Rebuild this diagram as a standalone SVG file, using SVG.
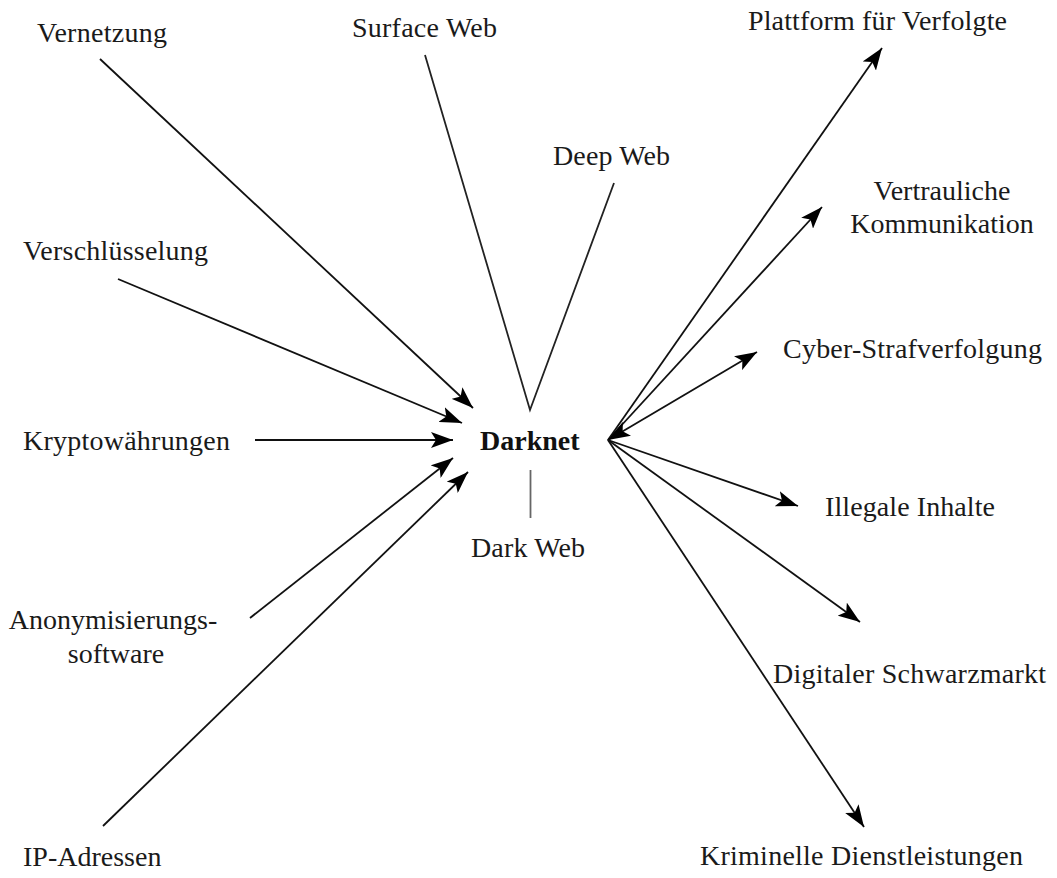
<svg xmlns="http://www.w3.org/2000/svg" width="1057" height="878" viewBox="0 0 1057 878">
  <style>
    .lbl { font-family: "Liberation Serif", "Times New Roman", serif; font-size: 28px; fill: #1a1a1a; }
    .hub { font-family: "Liberation Serif", "Times New Roman", serif; font-size: 28px; font-weight: bold; fill: #111; }
    .edge { stroke: #111; stroke-width: 1.8; fill: none; }
    .arrow { marker-end: url(#head); }
    .both { marker-start: url(#head); marker-end: url(#head); }
    .plain { stroke: #222; }
    .dim { stroke: #666; stroke-width: 1.8; }
  </style>
  <defs>
    <marker id="head" viewBox="0 0 22 16" refX="22" refY="8" markerWidth="22" markerHeight="16" markerUnits="userSpaceOnUse" orient="auto-start-reverse">
      <path d="M0,0 L22,8 L0,16 L5,8 Z" fill="#000"/>
    </marker>
  </defs>
  <rect width="1057" height="878" fill="#fff"/>

  <g id="connectors">
    <!-- inputs into the hub -->
    <line class="edge arrow" x1="100" y1="59" x2="473" y2="408"/>
    <line class="edge arrow" x1="118" y1="279" x2="462" y2="423"/>
    <line class="edge arrow" x1="255" y1="440" x2="453" y2="440"/>
    <line class="edge arrow" x1="250" y1="618" x2="453" y2="458"/>
    <line class="edge arrow" x1="103" y1="826" x2="468" y2="472"/>
    <!-- surface / deep web meet above the hub -->
    <polyline class="edge plain" points="425,55 530,410 614,183"/>
    <!-- dark web tick below the hub -->
    <line class="edge dim" x1="530.5" y1="470" x2="530.5" y2="518"/>
    <!-- outputs from the hub -->
    <line class="edge arrow" x1="608" y1="440" x2="882" y2="48"/>
    <line class="edge arrow" x1="608" y1="440" x2="822" y2="207"/>
    <line class="edge both" x1="608" y1="440" x2="757" y2="352"/>
    <line class="edge arrow" x1="608" y1="440" x2="798" y2="506"/>
    <line class="edge arrow" x1="608" y1="440" x2="860" y2="622"/>
    <line class="edge arrow" x1="608" y1="440" x2="864" y2="827"/>
  </g>

  <g id="darknet"><text class="hub" x="480" y="450">Darknet</text></g>
  <g id="vernetzung"><text class="lbl" x="37" y="42" textLength="130">Vernetzung</text></g>
  <g id="surface-web"><text class="lbl" x="352" y="37" textLength="145">Surface Web</text></g>
  <g id="deep-web"><text class="lbl" x="553" y="165" textLength="117">Deep Web</text></g>
  <g id="verschluesselung"><text class="lbl" x="23" y="260" textLength="185">Verschlüsselung</text></g>
  <g id="kryptowaehrungen"><text class="lbl" x="23" y="450" textLength="207">Kryptowährungen</text></g>
  <g id="anonymisierungssoftware">
    <text class="lbl" text-anchor="middle" x="113" y="629">Anonymisierungs-</text>
    <text class="lbl" text-anchor="middle" x="116" y="663">software</text>
  </g>
  <g id="ip-adressen"><text class="lbl" x="23" y="866">IP-Adressen</text></g>
  <g id="dark-web"><text class="lbl" x="471" y="557" textLength="114">Dark Web</text></g>
  <g id="plattform"><text class="lbl" x="748" y="30" textLength="259">Plattform für Verfolgte</text></g>
  <g id="vertrauliche-kommunikation">
    <text class="lbl" text-anchor="middle" x="942" y="200">Vertrauliche</text>
    <text class="lbl" text-anchor="middle" x="942" y="233">Kommunikation</text>
  </g>
  <g id="cyber-strafverfolgung"><text class="lbl" x="783" y="358" textLength="259">Cyber-Strafverfolgung</text></g>
  <g id="illegale-inhalte"><text class="lbl" x="825" y="516" textLength="170">Illegale Inhalte</text></g>
  <g id="digitaler-schwarzmarkt"><text class="lbl" x="773" y="683" textLength="273">Digitaler Schwarzmarkt</text></g>
  <g id="kriminelle-dienstleistungen"><text class="lbl" x="700" y="865" textLength="323">Kriminelle Dienstleistungen</text></g>
</svg>
